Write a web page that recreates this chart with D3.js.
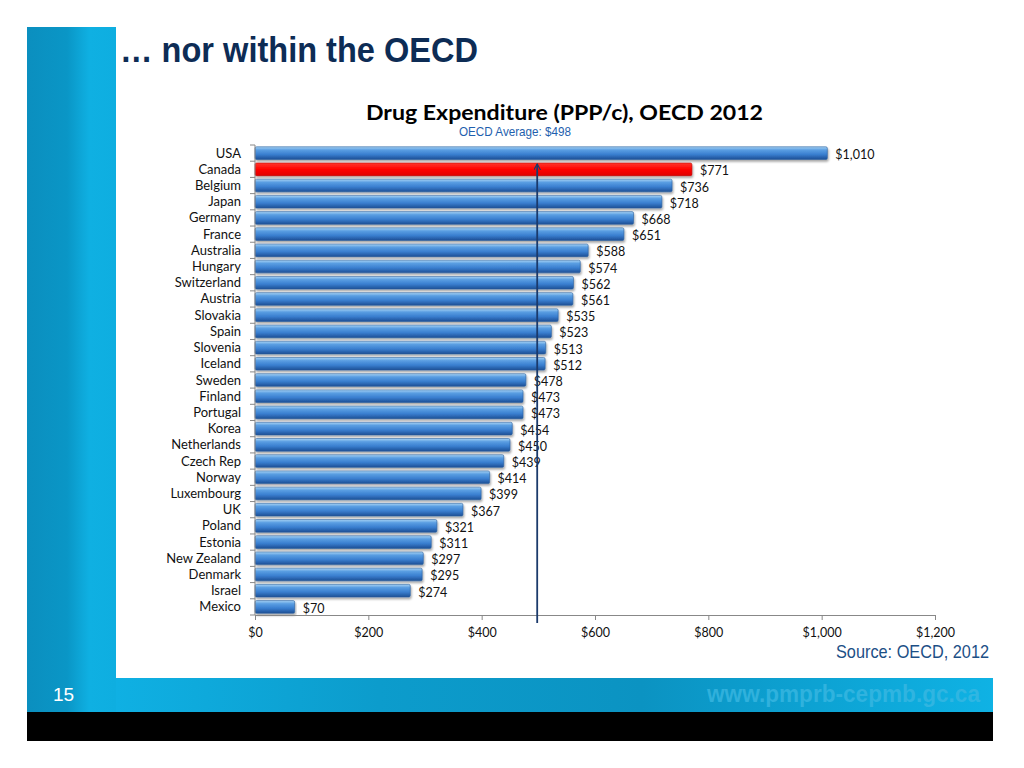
<!DOCTYPE html>
<html><head><meta charset="utf-8">
<script src="https://cdn.jsdelivr.net/npm/d3@7/dist/d3.min.js"></script>
<style>html,body{margin:0;padding:0;background:#fff;}svg{display:block}</style>
</head><body><svg id="c" width="1024" height="768"></svg>
<script>
const countries = ["USA","Canada","Belgium","Japan","Germany","France","Australia","Hungary","Switzerland","Austria","Slovakia","Spain","Slovenia","Iceland","Sweden","Finland","Portugal","Korea","Netherlands","Czech Rep","Norway","Luxembourg","UK","Poland","Estonia","New Zealand","Denmark","Israel","Mexico"];
const spending = [1010,771,736,718,668,651,588,574,562,561,535,523,513,512,478,473,473,454,450,439,414,399,367,321,311,297,295,274,70];
const highlight = "Canada";
const oecdAverage = 498;
const xTicks = [0,200,400,600,800,1000,1200];

(function(){
const svg = d3.select("#c");
const defs = svg.append("defs");
const NARROW = "Liberation Sans, Arial, sans-serif";
const BODY = "Lato, Open Sans, sans-serif";

const gp = defs.append("linearGradient").attr("id","gpanel").attr("x1","0").attr("x2","1").attr("y1","0").attr("y2","0");
gp.append("stop").attr("offset","0").attr("stop-color","#0b8fbf");
gp.append("stop").attr("offset","0.45").attr("stop-color","#0a96c6");
gp.append("stop").attr("offset","0.7").attr("stop-color","#0fb0e2");
gp.append("stop").attr("offset","1").attr("stop-color","#0eaee0");
const gb = defs.append("linearGradient").attr("id","gband").attr("x1","0").attr("x2","1").attr("y1","0").attr("y2","0");
gb.append("stop").attr("offset","0").attr("stop-color","#0fb0e3");
gb.append("stop").attr("offset","0.3").attr("stop-color","#0c9ccc");
gb.append("stop").attr("offset","0.6").attr("stop-color","#0b93c2");
gb.append("stop").attr("offset","1").attr("stop-color","#0fb2e4");

svg.append("rect").attr("x",27).attr("y",27).attr("width",89).attr("height",686).attr("fill","url(#gpanel)");
svg.append("rect").attr("x",116).attr("y",678).attr("width",877).attr("height",35).attr("fill","url(#gband)");
svg.append("rect").attr("x",27).attr("y",712).attr("width",966).attr("height",29).attr("fill","#000");
svg.append("text").attr("x",53).attr("y",701).attr("fill","#fff").attr("font-family",NARROW).attr("font-size",19).text("15");
svg.append("text").attr("x",707).attr("y",702).attr("fill","#3cb8e2").attr("fill-opacity",0.75)
  .attr("textLength",273).attr("lengthAdjust","spacingAndGlyphs")
  .attr("font-family",NARROW).attr("font-weight","bold").attr("font-size",23).text("www.pmprb-cepmb.gc.ca");

svg.append("text").attr("x",120).attr("y",62).attr("fill","#0d2c55").attr("font-family",NARROW)
  .attr("textLength",358).attr("lengthAdjust","spacingAndGlyphs")
  .attr("font-weight","bold").attr("font-size",35).text("… nor within the OECD");

svg.append("text").attr("x",366).attr("y",120).attr("fill","#000").attr("font-family",BODY)
  .attr("textLength",397).attr("lengthAdjust","spacingAndGlyphs")
  .attr("font-weight","bold").attr("font-size",20.5).text("Drug Expenditure (PPP/c), OECD 2012");
svg.append("text").attr("x",459).attr("y",136).attr("fill","#1f5fae").attr("font-family",NARROW)
  .attr("textLength",112).attr("lengthAdjust","spacingAndGlyphs")
  .attr("font-size",13).text("OECD Average: $" + oecdAverage);

svg.append("text").attr("x",836).attr("y",658).attr("fill","#1c4f86").attr("font-family",NARROW)
  .attr("textLength",153).attr("lengthAdjust","spacingAndGlyphs")
  .attr("font-size",19).text("Source: OECD, 2012");

const L = 255, R = 935, T = 145, B = 615;
const x = d3.scaleLinear().domain([0,1200]).range([L,R]);
const y = d3.scaleBand().domain(countries).range([T,B]).paddingInner(0.22).paddingOuter(0.11);

const gBlue = defs.append("linearGradient").attr("id","gblue").attr("x1","0").attr("x2","0").attr("y1","0").attr("y2","1");
gBlue.append("stop").attr("offset","0").attr("stop-color","#a9d4f5");
gBlue.append("stop").attr("offset","0.25").attr("stop-color","#5a9ee2");
gBlue.append("stop").attr("offset","0.6").attr("stop-color","#3a7fd0");
gBlue.append("stop").attr("offset","1").attr("stop-color","#1d4f95");
const gRed = defs.append("linearGradient").attr("id","gred").attr("x1","0").attr("x2","0").attr("y1","0").attr("y2","1");
gRed.append("stop").attr("offset","0").attr("stop-color","#ff3a2a");
gRed.append("stop").attr("offset","0.5").attr("stop-color","#ff0000");
gRed.append("stop").attr("offset","1").attr("stop-color","#e00000");

const f = defs.append("filter").attr("id","sh").attr("x","-5%").attr("y","-30%").attr("width","110%").attr("height","180%");
f.append("feDropShadow").attr("dx",1).attr("dy",2).attr("stdDeviation",1.2).attr("flood-color","#000").attr("flood-opacity",0.35);

const data = countries.map((c,i)=>({c, v: spending[i]}));

svg.append("g").selectAll("rect").data(data).join("rect")
  .attr("x", x(0)).attr("y", d=>y(d.c)).attr("width", d=>x(d.v)-x(0)).attr("height", y.bandwidth())
  .attr("rx",1.5)
  .attr("fill", d=> d.c===highlight ? "url(#gred)" : "url(#gblue)")
  .attr("stroke", d=> d.c===highlight ? "#c00000" : "#2a5f9e").attr("stroke-width",0.6)
  .attr("filter","url(#sh)");

svg.append("g").selectAll("text").data(data).join("text")
  .attr("x", d=>x(d.v)+8).attr("y", d=>y(d.c)+y.bandwidth()/2+6)
  .attr("font-family",BODY).attr("font-size",12.5).attr("fill","#111")
  .text(d=>"$"+d3.format(",")(d.v));

const yAxis = svg.append("g");
yAxis.append("line").attr("x1",L).attr("x2",L).attr("y1",T).attr("y2",B).attr("stroke","#888").attr("stroke-width",1);
yAxis.selectAll("line.t").data(d3.range(countries.length+1)).join("line").attr("class","t")
  .attr("x1",L-5).attr("x2",L).attr("y1",i=>T+i*(B-T)/countries.length).attr("y2",i=>T+i*(B-T)/countries.length)
  .attr("stroke","#888");
yAxis.selectAll("text").data(countries).join("text")
  .attr("x",241).attr("y",c=>y(c)+y.bandwidth()/2+4.5).attr("text-anchor","end")
  .attr("font-family",BODY).attr("font-size",13).attr("fill","#111").text(c=>c);

const xAxis = d3.axisBottom(x).tickValues(xTicks).tickSize(5).tickFormat(d=>"$"+d3.format(",")(d));
const gx = svg.append("g").attr("transform",`translate(0,${B})`).call(xAxis);
gx.select(".domain").attr("stroke","#888");
gx.selectAll(".tick line").attr("stroke","#888");
gx.selectAll(".tick text").attr("font-family",BODY).attr("font-size",12.5).attr("fill","#111").attr("dy","1.15em");

defs.append("marker").attr("id","arr").attr("viewBox","0 0 10 10").attr("refX",9).attr("refY",5)
  .attr("markerWidth",7).attr("markerHeight",7).attr("orient","auto-start-reverse").attr("markerUnits","userSpaceOnUse")
  .append("path").attr("d","M0,0 L9,5 L0,10").attr("fill","none").attr("stroke","#1b3a6b").attr("stroke-width",1.6);
svg.append("line").attr("x1",x(oecdAverage)).attr("x2",x(oecdAverage)).attr("y1",623).attr("y2",y("Canada")+1)
  .attr("stroke","#1b3a6b").attr("stroke-width",1.8).attr("marker-end","url(#arr)");
})();
</script></body></html>
